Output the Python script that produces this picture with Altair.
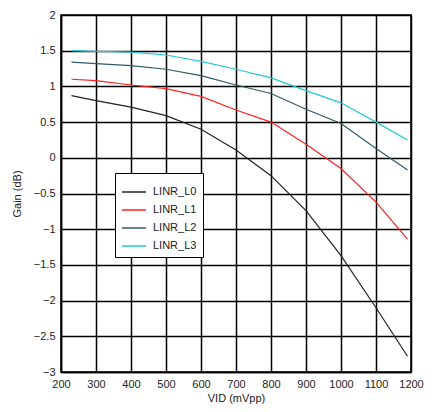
import altair as alt
import pandas as pd

vid = [230, 300, 400, 500, 600, 700, 800, 900, 1000, 1100, 1190]
linr_l0 = [0.87, 0.80, 0.71, 0.59, 0.40, 0.11, -0.25, -0.74, -1.37, -2.10, -2.78]
linr_l1 = [1.10, 1.08, 1.02, 0.97, 0.86, 0.67, 0.50, 0.19, -0.15, -0.62, -1.14]
linr_l2 = [1.34, 1.32, 1.29, 1.24, 1.15, 1.02, 0.90, 0.68, 0.48, 0.13, -0.17]
linr_l3 = [1.50, 1.49, 1.48, 1.44, 1.35, 1.24, 1.12, 0.94, 0.77, 0.50, 0.25]
series_names = ["LINR_L0", "LINR_L1", "LINR_L2", "LINR_L3"]
series_colors = ["#222222", "#ff2020", "#2b5c68", "#22c8d8"]
x_ticks = [200, 300, 400, 500, 600, 700, 800, 900, 1000, 1100, 1200]
y_ticks = [-3, -2.5, -2, -1.5, -1, -0.5, 0, 0.5, 1, 1.5, 2]

rows = []
for name, vals in zip(series_names, [linr_l0, linr_l1, linr_l2, linr_l3]):
    for x, y in zip(vid, vals):
        rows.append({"VID": x, "Gain": y, "Series": name})
df = pd.DataFrame(rows)

font = "Liberation Sans"

chart = alt.Chart(df).mark_line(strokeWidth=1.2, clip=True).encode(
    x=alt.X("VID:Q", scale=alt.Scale(domain=[200, 1200], nice=False),
            axis=alt.Axis(values=x_ticks, title="VID (mVpp)", grid=True,
                          ticks=False, labelPadding=6, titlePadding=3,
                          labelFlush=False, format="d")),
    y=alt.Y("Gain:Q", scale=alt.Scale(domain=[-3, 2], nice=False),
            axis=alt.Axis(values=y_ticks, title="Gain (dB)", grid=True,
                          ticks=False, labelPadding=6, titlePadding=11,
                          labelFlush=False, format="~g")),
    color=alt.Color("Series:N",
                    scale=alt.Scale(domain=series_names, range=series_colors),
                    legend=alt.Legend(title=None, orient="none", legendX=54, legendY=158,
                                      symbolType="stroke", symbolSize=576,
                                      symbolStrokeWidth=1.5,
                                      strokeColor="black", fillColor="white",
                                      padding=6, rowPadding=-7, labelFontSize=11,
                                      labelFont=font, labelColor="#222222",
                                      labelOffset=6, offset=0)),
).properties(
    width=350, height=357,
    autosize=alt.AutoSizeParams(type="none"),
    padding={"left": 53, "top": 7, "right": 13, "bottom": 38},
).configure_axis(
    gridColor="black", gridWidth=1.5, gridOpacity=1,
    domainColor="black", domainWidth=1.5,
    labelFont=font, labelFontSize=11, labelColor="#222222",
    titleFont=font, titleFontSize=11, titleFontWeight="normal", titleColor="#222222",
).configure_view(stroke="black", strokeWidth=1.5)

chart.save("out.html", embed_options={"renderer": "svg", "actions": False})
